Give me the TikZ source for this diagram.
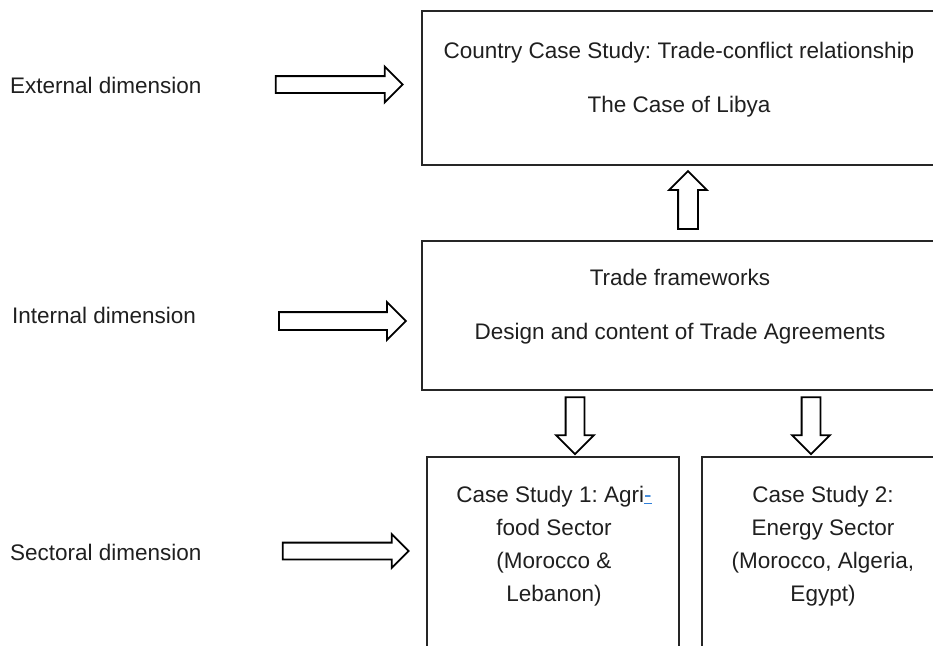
\documentclass[tikz,border=0pt]{standalone}
\usepackage{fontspec}
\setmainfont{Liberation Sans}
\usetikzlibrary{shapes.arrows}
\definecolor{spellblue}{HTML}{2F7FD9}
\frenchspacing
\begin{document}
\begin{tikzpicture}[x=1pt,y=-1pt,
  box/.style={draw=black!85,line width=1.3pt,rectangle,inner sep=0pt},
  txt/.style={font=\fontsize{22.5}{33}\selectfont,text=black!88,inner sep=0pt,anchor=base},
  lbl/.style={font=\fontsize{22.5}{33}\selectfont,text=black!88,inner sep=0pt,anchor=base west},
  barrow/.style={single arrow,draw=black,line width=1.8pt,fill=white,inner xsep=0pt}]
\useasboundingbox (0,0) rectangle (933,645);
\clip (0,0) rectangle (933,645);
% boxes
\node[box,minimum width=520pt,minimum height=154pt] (country) at (682,88) {};
\node[box,minimum width=520pt,minimum height=149pt] (frame) at (682,315.5) {};
\node[box,minimum width=252pt,minimum height=250pt] (agri) at (553,582) {};
\node[box,minimum width=250pt,minimum height=250pt] (energy) at (827,582) {};
% box texts
\node[txt] (c1) at (679,58) {Country Case Study: Trade-conflict relationship};
\node[txt] (c2) at (679,112) {The Case of Libya};
\node[txt] (f1) at (680,285) {Trade frameworks};
\node[txt] (f2) at (680,339) {Design and content of Trade Agreements};
\node[txt] (a1) at (554,502) {Case Study 1: Agri{\color{spellblue}\underline{-}}};
\node[txt] (a2) at (554,535) {food Sector};
\node[txt] (a3) at (554,568) {(Morocco \&};
\node[txt] (a4) at (554,601) {Lebanon)};
\node[txt] (e1) at (823,502) {Case Study 2:};
\node[txt] (e2) at (823,535) {Energy Sector};
\node[txt] (e3) at (823,568) {(Morocco, Algeria,};
\node[txt] (e4) at (823,601) {Egypt)};
% dimension labels
\node[lbl] (ext) at (10,93) {External dimension};
\node[lbl] (int) at (12,323) {Internal dimension};
\node[lbl] (sec) at (10,560) {Sectoral dimension};
% block arrows
\node[barrow,minimum height=127pt,inner ysep=7.5pt,single arrow head extend=9.5pt] (extarrow) at (335,84.5) {};
\node[barrow,minimum height=127pt,inner ysep=8pt,single arrow head extend=10pt] (intarrow) at (338,321) {};
\node[barrow,minimum height=126pt,inner ysep=7.5pt,single arrow head extend=8.5pt] (secarrow) at (341.5,551) {};
\node[barrow,minimum height=58pt,inner ysep=9pt,single arrow head extend=9pt,rotate=90] (uparrow) at (688,205) {};
\node[barrow,minimum height=57pt,inner ysep=8.5pt,single arrow head extend=9.5pt,rotate=-90] (downa) at (575,421) {};
\node[barrow,minimum height=57pt,inner ysep=8.5pt,single arrow head extend=9.5pt,rotate=-90] (downe) at (811,421) {};
\end{tikzpicture}
\end{document}
